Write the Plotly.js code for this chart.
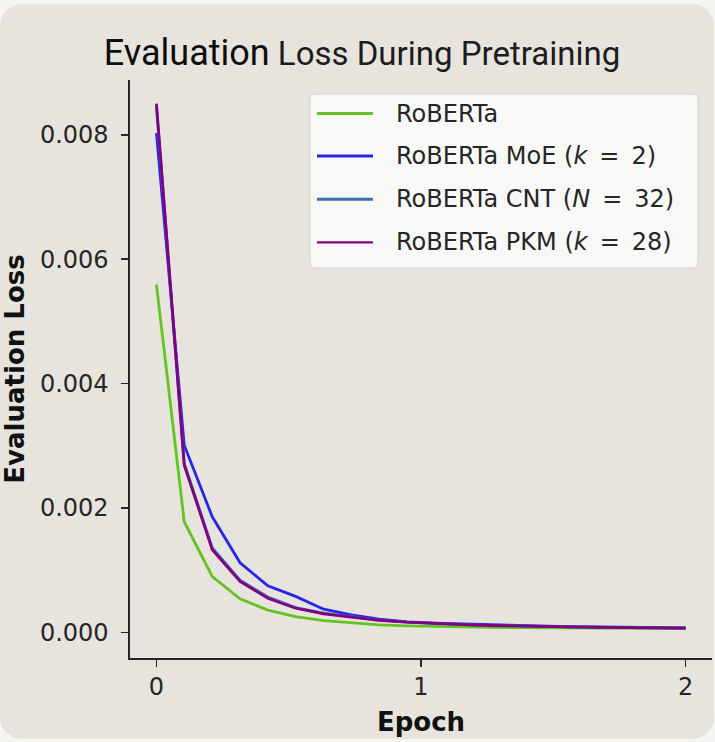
<!DOCTYPE html>
<html>
<head>
<meta charset="utf-8">
<script src="https://cdn.plot.ly/plotly-3.0.1.min.js"></script>
<style>
  html, body { margin: 0; padding: 0; width: 715px; height: 742px; background: #f4f4f2; overflow: hidden; }
  #card { position: absolute; left: 0; top: 4px; width: 714px; height: 735px; background: #e7e4dd; border-radius: 22px; }
  #chart { position: absolute; left: 0; top: 0; width: 715px; height: 742px; }
</style>
</head>
<body>
<div id="card"></div>
<div id="chart"></div>
<script>
// ---- Data ----
const epochs = [0, 0.105, 0.211, 0.316, 0.421, 0.526, 0.632, 0.737, 0.842, 0.947,
                1.053, 1.158, 1.263, 1.368, 1.474, 1.579, 1.684, 1.789, 1.895, 2.0];

const robertaLoss = [0.00559, 0.00178, 0.00090, 0.00054, 0.00036, 0.000256, 0.00019, 0.00015, 0.000122, 0.000106,
                     0.000095, 0.000088, 0.000083, 0.000078, 0.000074, 0.000071, 0.000068, 0.000066, 0.000064, 0.000062];

const moeLoss = [0.00803, 0.00301, 0.00186, 0.00112, 0.00075, 0.00058, 0.000375, 0.000283, 0.000214, 0.00017,
                 0.00015, 0.000135, 0.000122, 0.00011, 0.0001, 0.000092, 0.000086, 0.000081, 0.000077, 0.000074];

const cntLoss = [0.00845, 0.00272, 0.00136, 0.00084, 0.00057, 0.00040, 0.00031, 0.00025, 0.0002, 0.000168,
                 0.000142, 0.000127, 0.000114, 0.000104, 0.000095, 0.000089, 0.000083, 0.000079, 0.000075, 0.000072];

const pkmLoss = [0.00850, 0.00269, 0.00133, 0.00082, 0.00055, 0.00039, 0.00030, 0.000246, 0.000195, 0.000165,
                 0.00014, 0.000125, 0.000112, 0.000102, 0.000094, 0.000088, 0.000082, 0.000078, 0.000074, 0.000071];

const seriesNames = ["RoBERTa",
                     "RoBERTa MoE (<i>k</i>\u2002=\u20022)",
                     "RoBERTa CNT (<i>N</i>\u2002=\u200232)",
                     "RoBERTa PKM (<i>k</i>\u2002=\u200228)"];
const seriesColors = ["#62c321", "#2626e6", "#3c6fb3", "#800080"];
const seriesWidths = [2.8, 2.8, 2.8, 2.8];
const legendWidths = [3, 3, 3, 2.2];
const seriesValues = [robertaLoss, moeLoss, cntLoss, pkmLoss];

const yTicks = [0, 0.002, 0.004, 0.006, 0.008];
const xTicks = [0, 1, 2];

// ---- Layout geometry (pixels) ----
const W = 715, H = 742;
const L = 130, R = 712, T = 80, B = 658;
const px = v => (v - L) / (R - L);
const py = v => (B - v) / (B - T);

const traces = seriesValues.map((vals, i) => ({
  x: epochs, y: vals, type: 'scatter', mode: 'lines',
  name: seriesNames[i], showlegend: false,
  line: { color: seriesColors[i], width: seriesWidths[i] },
  hoverinfo: 'skip'
}));

// custom legend (matplotlib style)
const lx0 = 310, lx1 = 698, ly0 = 94, ly1 = 268, rad = 5;
const rx = rad / (R - L), ry = rad / (B - T);
const X0 = px(lx0), X1 = px(lx1), Y0 = py(ly0), Y1 = py(ly1);
const boxPath = `M${X0 + rx},${Y0} L${X1 - rx},${Y0} Q${X1},${Y0} ${X1},${Y0 - ry} L${X1},${Y1 + ry} Q${X1},${Y1} ${X1 - rx},${Y1} L${X0 + rx},${Y1} Q${X0},${Y1} ${X0},${Y1 + ry} L${X0},${Y0 - ry} Q${X0},${Y0} ${X0 + rx},${Y0} Z`;

const shapes = [{
  type: 'path', xref: 'paper', yref: 'paper', path: boxPath,
  fillcolor: 'rgba(250,250,248,0.92)', line: { color: '#d2d2d0', width: 1 }, layer: 'above'
}];
const annotations = [];
const rows = [113.5, 156, 199.3, 242.3];
rows.forEach((r, i) => {
  shapes.push({
    type: 'line', xref: 'paper', yref: 'paper',
    x0: px(317), x1: px(373), y0: py(r), y1: py(r),
    line: { color: seriesColors[i], width: legendWidths[i] }, layer: 'above'
  });
  annotations.push({
    xref: 'paper', yref: 'paper', x: px(394), y: py(r),
    xanchor: 'left', yanchor: 'middle', showarrow: false,
    text: seriesNames[i],
    font: { family: 'DejaVu Sans', size: 24, color: '#262626' }
  });
});

const layout = {
  width: W, height: H,
  paper_bgcolor: 'rgba(0,0,0,0)', plot_bgcolor: 'rgba(0,0,0,0)',
  margin: { l: L, r: W - R, t: T, b: H - B, pad: 0 },
  showlegend: false,
  title: {
    text: '<span style="font-size:36px;color:#0d0d0d">Evaluation</span> Loss During Pretraining',
    font: { family: 'Roboto', size: 33, color: '#1c1c1c' },
    x: 362 / W, xanchor: 'center', xref: 'container',
    y: 1 - 53 / H, yanchor: 'middle', yref: 'container'
  },
  xaxis: {
    range: [-0.1, 2.1], tickvals: xTicks, ticktext: xTicks.map(String),
    showgrid: false, zeroline: false, showline: true, linecolor: '#262626', linewidth: 1.6,
    ticks: 'outside', ticklen: 7, tickwidth: 1.6, tickcolor: '#262626',
    tickfont: { family: 'DejaVu Sans', size: 24, color: '#262626' },
    title: { text: '<b>Epoch</b>', font: { family: 'DejaVu Sans', size: 26, color: '#111111' }, standoff: 12 }
  },
  yaxis: {
    range: [-0.00041, 0.00888], tickvals: yTicks, ticktext: yTicks.map(v => v.toFixed(3)),
    showgrid: false, zeroline: false, showline: true, linecolor: '#262626', linewidth: 1.6,
    ticks: 'outside', ticklen: 7, tickwidth: 1.6, tickcolor: '#262626',
    ticklabelstandoff: 8,
    tickfont: { family: 'DejaVu Sans', size: 24, color: '#262626' },
    title: { text: '<b>Evaluation Loss</b>', font: { family: 'DejaVu Sans', size: 26, color: '#111111' }, standoff: 12 }
  },
  shapes: shapes,
  annotations: annotations
};

Plotly.newPlot('chart', traces, layout, { displayModeBar: false, staticPlot: true });
</script>
</body>
</html>
